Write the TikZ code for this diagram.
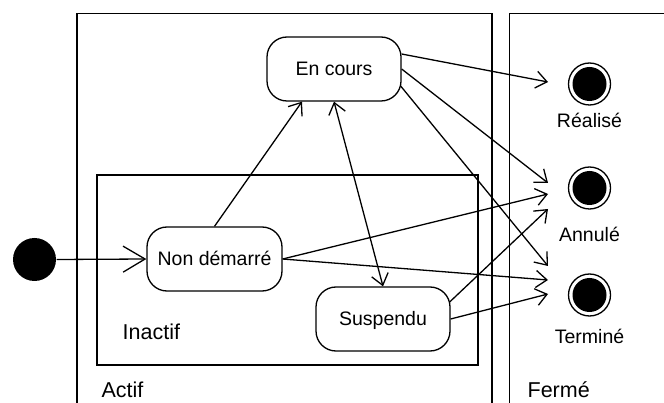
\documentclass[tikz,border=0pt]{standalone}
\usepackage{fontspec}
\setmainfont{Liberation Sans}
\usetikzlibrary{arrows.meta}
\begin{document}
\begin{tikzpicture}[x=1pt,y=-1pt, line width=1.3pt,
  txt/.style={font=\fontsize{19.5}{23}\selectfont},
  bigtxt/.style={font=\fontsize{21.5}{25}\selectfont},
  state/.style={txt, draw, rounded corners=20pt, minimum width=134pt, minimum height=64pt, inner sep=0pt, text height=14pt, text depth=0pt},
  lbl/.style={bigtxt, anchor=base west, inner sep=0pt},
  flbl/.style={txt, anchor=base, inner sep=0pt},
  final/.style={circle, draw, minimum size=42pt, inner sep=0pt, path picture={\fill (path picture bounding box.center) circle (17pt);}},
  initial/.style={circle, fill=black, minimum size=43pt, inner sep=0pt},
  tr/.style={-{Straight Barb[length=11pt,width=17pt]}},
  trbig/.style={-{Straight Barb[length=22pt,width=26pt]}},
  trboth/.style={{Straight Barb[length=11pt,width=17pt]}-{Straight Barb[length=11pt,width=17pt]}}
]
\useasboundingbox (0,0) rectangle (664,403);
% composite state frames
\draw (77,410) -- (77,13.5) -- (492,13.5) -- (492,410);
\draw (509.5,410) -- (509.5,13.5) -- (670,13.5);
\node[draw, minimum width=381pt, minimum height=190pt, inner sep=0pt] (inactifbox) at (287.5,270) {};
\node[lbl] (actif) at (101,397) {Actif};
\node[lbl] (ferme) at (527,397) {Fermé};
\node[lbl] (inactif) at (122,340) {Inactif};
% states
\node[state] (ec) at (334,69) {En cours};
\node[state, minimum width=135pt] (nd) at (214.5,259) {Non démarré};
\node[state] (sus) at (383,319) {Suspendu};
\node[initial] (init) at (34.5,259.5) {};
\node[final] (fr) at (589.5,84) {};
\node[final] (fa) at (589.5,188) {};
\node[final] (ft) at (589.5,295) {};
\node[flbl] (lr) at (589.5,128) {Réalisé};
\node[flbl] (la) at (589.5,241.5) {Annulé};
\node[flbl] (lt) at (589.5,343) {Terminé};
% free arrow ends
\coordinate (r1) at (548,82);
\coordinate (a1) at (548,183);
\coordinate (a2) at (548,194);
\coordinate (a3) at (548,209);
\coordinate (t1) at (548,266);
\coordinate (t2) at (548,280);
\coordinate (t3) at (548,294);
% transitions
\draw[trbig] (init.east) -- (nd.west);
\draw[tr] (nd.north) -- ([xshift=-32pt]ec.south);
\draw[trboth] (ec.south) -- (sus.north);
\draw[tr] ([yshift=15pt]ec.east) -- (r1);
\draw[tr] (ec.east) -- (a1);
\draw[tr] ([xshift=-1pt,yshift=-17pt]ec.east) -- (t1);
\draw[tr] (nd.east) -- (a2);
\draw[tr] (nd.east) -- (t2);
\draw[tr] ([xshift=-1pt,yshift=17pt]sus.east) -- (a3);
\draw[tr] (sus.east) -- (t3);
\end{tikzpicture}
\end{document}
